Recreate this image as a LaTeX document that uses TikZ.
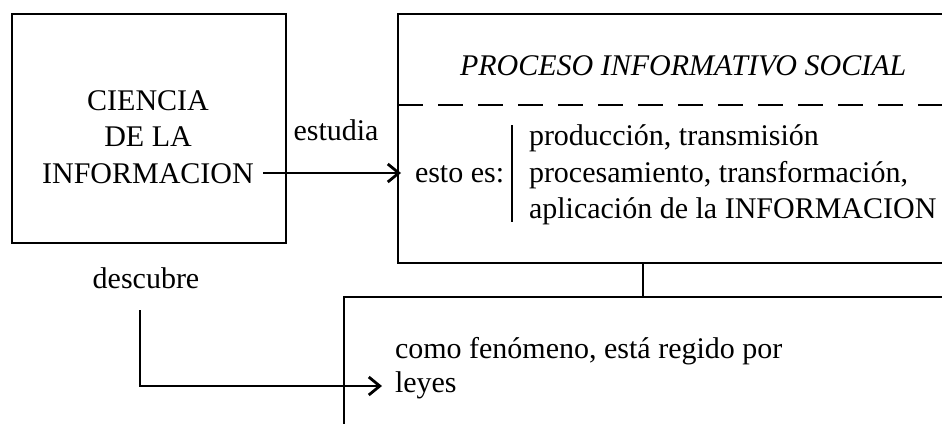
\documentclass[tikz,border=0pt]{standalone}
\usepackage{fontspec}
\setmainfont{Liberation Serif}
\usetikzlibrary{arrows.meta}
\begin{document}
\begin{tikzpicture}[x=1pt,y=-1pt,
  box/.style={draw, line width=2.8pt, inner sep=0pt, outer sep=0pt},
  lbl/.style={inner sep=0pt, outer sep=0pt, font=\fontsize{30}{36}\selectfont, anchor=base west},
  clbl/.style={lbl, anchor=base},
  conn/.style={line width=2.8pt},
  arr/.style={line width=2.8pt, -{Straight Barb[length=11pt,width=18pt]}}]
\useasboundingbox (0,0) rectangle (942,423);
\clip (0,0) rectangle (942,423);
% boxes
\node[box, minimum width=274pt, minimum height=229pt] (ciencia) at (149,128.5) {};
\node[box, minimum width=562pt, minimum height=249pt] (proceso) at (679,138.5) {};
\node[box, minimum width=616pt, minimum height=143pt] (leyesbox) at (652,368.5) {};
% left box text
\node[clbl] (t1) at (148,110) {CIENCIA};
\node[clbl] (t2) at (148,146.5) {DE LA};
\node[clbl] (t3) at (148,183) {INFORMACION};
% title and dashed separator
\node[lbl, font=\fontsize{30}{36}\selectfont\itshape] (title) at (460,75) {PROCESO INFORMATIVO SOCIAL};
\coordinate (dl) at (398,105);
\draw[conn, dash pattern=on 25pt off 15pt] (dl) -- (proceso.east |- dl);
% esto es
\node[lbl] (esto) at (415,182) {esto es:};
\coordinate (b1) at (512,125);
\coordinate (b2) at (512,222);
\draw[line width=2.2pt] (b1) -- (b2);
\node[lbl] (l1) at (529,145) {producción, transmisión};
\node[lbl] (l2) at (529,182) {procesamiento, transformación,};
\node[lbl] (l3) at (529,218) {aplicación de la INFORMACION};
% labels
\node[clbl] (estudia) at (336,140) {estudia};
\node[clbl] (descubre) at (146,288) {descubre};
\node[lbl] (b1t) at (395,358) {como fenómeno, está regido por};
\node[lbl] (b2t) at (395,392) {leyes};
% connectors
\coordinate (s1) at (263,173);
\draw[arr, shorten >=-3pt] (s1) -- (proceso.west |- s1);
\coordinate (s2) at (140,310);
\coordinate (e2) at (382,386);
\draw[arr] (s2) |- (e2);
\coordinate (cx) at (643,0);
\draw[conn] (proceso.south -| cx) -- (leyesbox.north -| cx);
\end{tikzpicture}
\end{document}
